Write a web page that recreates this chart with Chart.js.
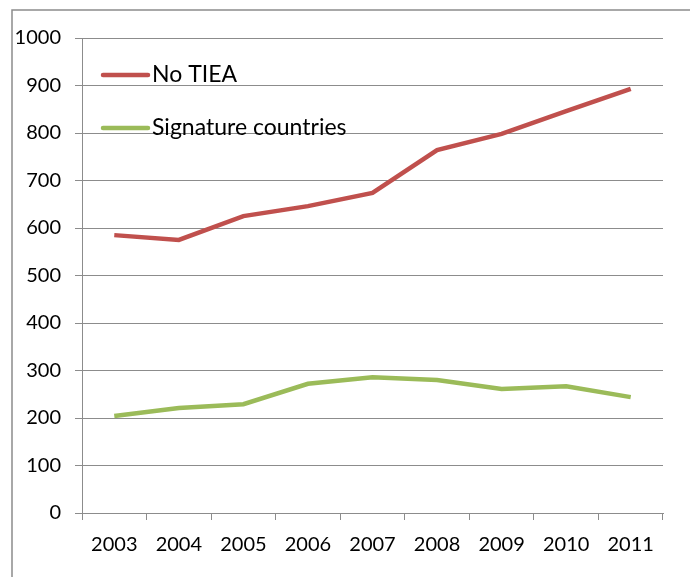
<!DOCTYPE html>
<html>
<head>
<meta charset="utf-8">
<script src="https://cdn.jsdelivr.net/npm/chart.js@4/dist/chart.umd.min.js"></script>
<style>
  html, body { margin: 0; padding: 0; background: #fff; }
  #wrap { width: 690px; height: 577px; position: relative; }
</style>
</head>
<body>
<div id="wrap"><canvas id="myline"></canvas></div>
<script>
const years = ['2003', '2004', '2005', '2006', '2007', '2008', '2009', '2010', '2011'];
const noTiea = [585, 575, 625, 646, 674, 764, 798, 846, 893];
const signature = [204, 221, 229, 272, 286, 280, 261, 267, 244];
const yTicks = [0, 100, 200, 300, 400, 500, 600, 700, 800, 900, 1000];

const fontFam = 'Lato, "Open Sans", sans-serif';

// outer frame (left and top edges only, like the original)
const framePlugin = {
    id: 'frame',
    beforeDraw(chart) {
        const c = chart.ctx;
        c.save();
        c.strokeStyle = '#8c8c8c';
        c.lineWidth = 1.5;
        c.beginPath();
        c.moveTo(12, 577);
        c.lineTo(12, 10);
        c.lineTo(690, 10);
        c.stroke();
        c.restore();
    }
};

// legend drawn inside the plot, top left
const legendPlugin = {
    id: 'insideLegend',
    afterDraw(chart) {
        const c = chart.ctx;
        const rows = [75, 128];
        c.save();
        c.font = '23px ' + fontFam;
        c.textBaseline = 'middle';
        chart.data.datasets.forEach(function (ds, i) {
            c.strokeStyle = ds.borderColor;
            c.lineWidth = 4.5;
            c.lineCap = 'round';
            c.beginPath();
            c.moveTo(103, rows[i]);
            c.lineTo(148, rows[i]);
            c.stroke();
            c.fillStyle = '#000';
            c.fillText(ds.label, 152, rows[i]);
        });
        c.restore();
    }
};

const ctxx = document.getElementById('myline').getContext('2d');
const myChartt = new Chart(ctxx, {
    type: 'line',
    data: {
        labels: years,
        datasets: [{
            label: 'No TIEA',
            data: noTiea,
            borderColor: '#C0504D',
            backgroundColor: '#C0504D',
            borderWidth: 4.5,
            pointRadius: 0,
            tension: 0
        }, {
            label: 'Signature countries',
            data: signature,
            borderColor: '#9BBB59',
            backgroundColor: '#9BBB59',
            borderWidth: 4.5,
            pointRadius: 0,
            tension: 0
        }]
    },
    options: {
        responsive: true,
        maintainAspectRatio: false,
        animation: false,
        layout: { padding: { left: 0, right: 27, top: 38, bottom: 0 } },
        plugins: {
            legend: { display: false },
            tooltip: { enabled: false }
        },
        scales: {
            x: {
                offset: true,
                grid: { offset: true, drawOnChartArea: false, color: '#8c8c8c', tickLength: 7 },
                border: { color: '#8c8c8c' },
                ticks: { color: '#000', font: { family: fontFam, size: 20 }, padding: 13, maxRotation: 0 },
                afterFit(scale) { scale.height = 64; }
            },
            y: {
                min: 0,
                max: 1000,
                afterBuildTicks(scale) { scale.ticks = yTicks.map(function (v) { return { value: v }; }); },
                grid: { color: '#8c8c8c', tickLength: 7 },
                border: { color: '#8c8c8c' },
                ticks: {
                    color: '#000',
                    font: { family: fontFam, size: 20 },
                    padding: 14,
                    callback(v) { return String(v); }
                },
                afterFit(scale) { scale.width = 82; }
            }
        }
    },
    plugins: [framePlugin, legendPlugin]
});
</script>
</body>
</html>
